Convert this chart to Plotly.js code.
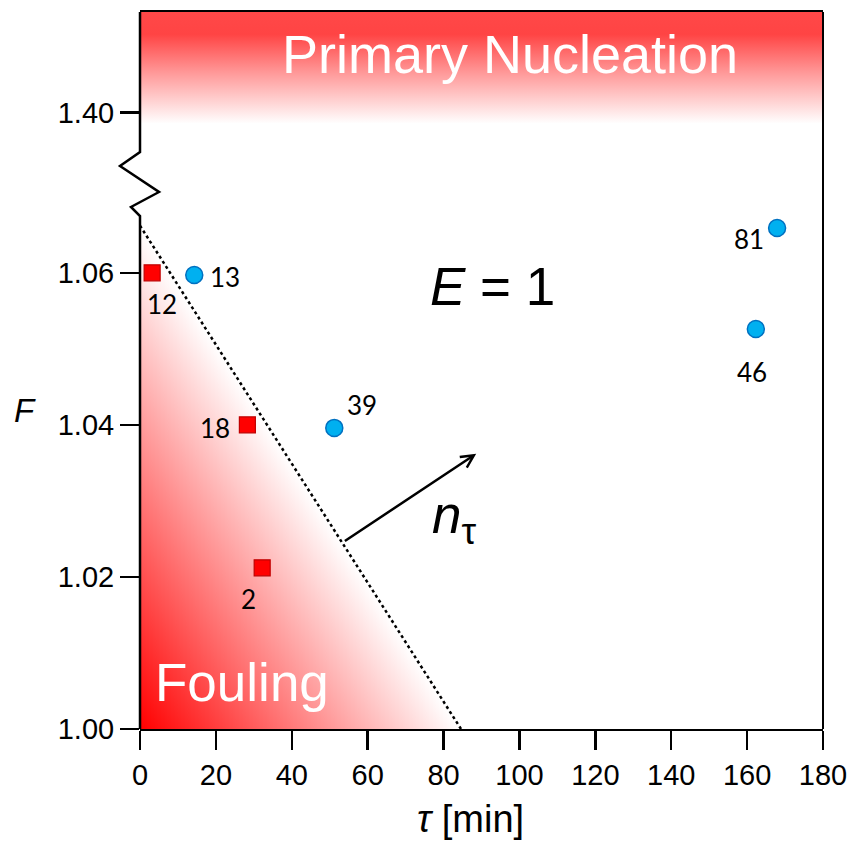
<!DOCTYPE html>
<html>
<head>
<meta charset="utf-8">
<script src="https://cdn.plot.ly/plotly-3.0.1.min.js"></script>
<style>html,body{margin:0;padding:0;background:#fff;}#chart{width:857px;height:841px;}</style>
</head>
<body>
<div id="chart"></div>
<script>
// ---- data ----
const redTau = [3.2, 28.3, 32.2];
const redF = [1.060, 1.040, 1.0212];
const redLabels = ['12', '18', '2'];

const blueTau = [14.3, 51.2, 162.3, 167.9];
const blueF = [1.0597, 1.0396, 1.0526, 1.0659];
const blueLabels = ['13', '39', '46', '81'];

const boundaryTau = [0, 84.6];
const boundaryF = [1.0662, 1.000];

const arrowTau = [53.6, 88.6];
const arrowF = [1.0246, 1.0362];

const xTickVals = [0, 20, 40, 60, 80, 100, 120, 140, 160, 180];
// broken axis: the 1.40 tick is drawn at a display position above 1.06
const yTickVals = [1.00, 1.02, 1.04, 1.06, 1.0811];
const yTickText = ['1.00', '1.02', '1.04', '1.06', '1.40'];
const yRange = [1.00, 1.0943];
const nucleationBottom = 1.0796;

// ---- label offsets (px, style only) ----
const redLabelShift = [[10, -31], [-32, -3], [-14, -31]];
const blueLabelShift = [[31, -2], [28, 23], [-4, -43], [-28, -11]];

const W = 683, H = 717; // plot area px
function svgUri(s) { return 'data:image/svg+xml;charset=utf-8,' + encodeURIComponent(s); }

const foulingSvg = '<svg xmlns="http://www.w3.org/2000/svg" width="100" height="100" viewBox="0 0 100 100" preserveAspectRatio="none">' +
  '<defs><linearGradient id="g" gradientUnits="userSpaceOnUse" x1="0" y1="100" x2="50" y2="50">' +
  '<stop offset="0" stop-color="#ff0000"/><stop offset="1" stop-color="#ffffff"/></linearGradient></defs>' +
  '<polygon points="0,0 0,100 100,100" fill="url(#g)"/></svg>';

const nucSvg = '<svg xmlns="http://www.w3.org/2000/svg" width="100" height="100" viewBox="0 0 100 100" preserveAspectRatio="none">' +
  '<defs><linearGradient id="h" x1="0" y1="0" x2="0" y2="1">' +
  '<stop offset="0" stop-color="#ff4848"/><stop offset="0.2" stop-color="#ff4444"/><stop offset="0.55" stop-color="#ff9a9a"/><stop offset="1" stop-color="#ffffff"/></linearGradient></defs>' +
  '<rect x="0" y="0" width="100" height="100" fill="url(#h)"/></svg>';

const traces = [
  {
    x: boundaryTau, y: boundaryF, mode: 'lines', type: 'scatter',
    line: {color: '#000', width: 2.5, dash: 'dot'}, hoverinfo: 'skip', showlegend: false
  },
  {
    x: redTau, y: redF, mode: 'markers', type: 'scatter', showlegend: false,
    marker: {symbol: 'square', size: 16, color: '#ff0000', line: {color: '#c00000', width: 1.2}},
    cliponaxis: false
  },
  {
    x: blueTau, y: blueF, mode: 'markers', type: 'scatter', showlegend: false,
    marker: {symbol: 'circle', size: 17, color: '#00b0f0', line: {color: '#0070c0', width: 1.5}},
    cliponaxis: false
  }
];

const labelFont = {family: 'Lato, "Open Sans", sans-serif', size: 26, color: '#000'};
const annotations = [];
redTau.forEach((t, i) => annotations.push({
  x: t, y: redF[i], xref: 'x', yref: 'y', text: redLabels[i], showarrow: false,
  xanchor: 'center', yanchor: 'middle',
  xshift: redLabelShift[i][0], yshift: redLabelShift[i][1], font: labelFont
}));
blueTau.forEach((t, i) => annotations.push({
  x: t, y: blueF[i], xref: 'x', yref: 'y', text: blueLabels[i], showarrow: false,
  xanchor: 'center', yanchor: 'middle',
  xshift: blueLabelShift[i][0], yshift: blueLabelShift[i][1], font: labelFont
}));
const bigFont = {family: '"Liberation Sans", Arial, sans-serif', size: 54, color: '#fff'};
const blackBig = {family: '"Liberation Sans", Arial, sans-serif', size: 53, color: '#000'};
annotations.push(
  {xref: 'paper', yref: 'paper', x: 0.541, y: 0.9410, xanchor: 'center', yanchor: 'middle', text: 'Primary Nucleation', showarrow: false, font: bigFont},
  {xref: 'paper', yref: 'paper', x: 0.149, y: 0.0650, xanchor: 'center', yanchor: 'middle', text: 'Fouling', showarrow: false,
   font: {family: '"Liberation Sans", Arial, sans-serif', size: 53, color: '#fff'}},
  {xref: 'paper', yref: 'paper', x: 0.5154, y: 0.6165, xanchor: 'center', yanchor: 'middle', text: '<i>E</i> = 1', showarrow: false, font: blackBig},
  {xref: 'paper', yref: 'paper', x: 0.4246, y: 0.294, xanchor: 'left', yanchor: 'middle', text: '<i>n</i><sub>τ</sub>', showarrow: false, font: blackBig},
  {xref: 'paper', yref: 'paper', x: -0.1684, y: 0.4449, xanchor: 'center', yanchor: 'middle', text: '<i>F</i>', showarrow: false,
   font: {family: '"Liberation Sans", Arial, sans-serif', size: 33, color: '#000'}},
  {xref: 'paper', yref: 'paper', x: 0.4846, y: -0.1255, xanchor: 'center', yanchor: 'middle', text: '<i>τ</i> [min]', showarrow: false,
   font: {family: '"Liberation Sans", Arial, sans-serif', size: 38, color: '#000'}},
  {x: arrowTau[1], y: arrowF[1], ax: arrowTau[0], ay: arrowF[0], xref: 'x', yref: 'y', axref: 'x', ayref: 'y',
   text: '', showarrow: true, arrowhead: 5, arrowsize: 1, arrowwidth: 2.5, arrowcolor: '#000', standoff: 0, startstandoff: 0}
);

// left axis with zigzag break (px offsets relative to plot area)
function px2paper(px, py) { return [(px / W).toFixed(5), (1 - py / H).toFixed(5)]; }
const zz = [[0, 0], [0, 140], [-20, 154], [19, 180], [-9, 195], [0, 204], [0, H]];
const zzPath = zz.map((p, i) => { const q = px2paper(p[0], p[1]); return (i ? 'L' : 'M') + q[0] + ',' + q[1]; }).join(' ');

const shapes = [
  {type: 'path', xref: 'paper', yref: 'paper', path: zzPath, line: {color: '#000', width: 2.5}, layer: 'above'},
  {type: 'line', xref: 'paper', yref: 'paper', x0: 1, x1: 1, y0: 0, y1: 1, line: {color: '#000', width: 2}, layer: 'above'}
];

const images = [
  {source: svgUri(foulingSvg), xref: 'x', yref: 'y', x: boundaryTau[0], y: boundaryF[0],
   sizex: boundaryTau[1] - boundaryTau[0], sizey: boundaryF[0] - boundaryF[1],
   xanchor: 'left', yanchor: 'top', sizing: 'stretch', layer: 'below'},
  {source: svgUri(nucSvg), xref: 'paper', yref: 'y', x: 0, y: yRange[1],
   sizex: 1, sizey: yRange[1] - nucleationBottom,
   xanchor: 'left', yanchor: 'top', sizing: 'stretch', layer: 'below'}
];

const tickFont = {family: '"Liberation Sans", Arial, sans-serif', size: 29, color: '#000'};
const layout = {
  width: 857, height: 841,
  margin: {l: 140, r: 34, t: 12, b: 112, pad: 0},
  paper_bgcolor: '#fff', plot_bgcolor: '#fff',
  showlegend: false,
  xaxis: {
    range: [0, 180], tickvals: xTickVals, ticks: 'outside', ticklen: 19, tickwidth: 2.5, tickcolor: '#000',
    showline: true, linewidth: 2, linecolor: '#000', mirror: true, showgrid: false, zeroline: false,
    tickfont: tickFont, fixedrange: true
  },
  yaxis: {
    range: yRange, tickvals: yTickVals, ticktext: yTickText, ticks: 'outside', ticklen: 19, tickwidth: 2.5, tickcolor: '#000',
    showline: false, showgrid: false, zeroline: false, tickfont: tickFont, fixedrange: true
  },
  annotations: annotations, shapes: shapes, images: images
};

Plotly.newPlot('chart', traces, layout, {displayModeBar: false, staticPlot: true});
</script>
</body>
</html>
